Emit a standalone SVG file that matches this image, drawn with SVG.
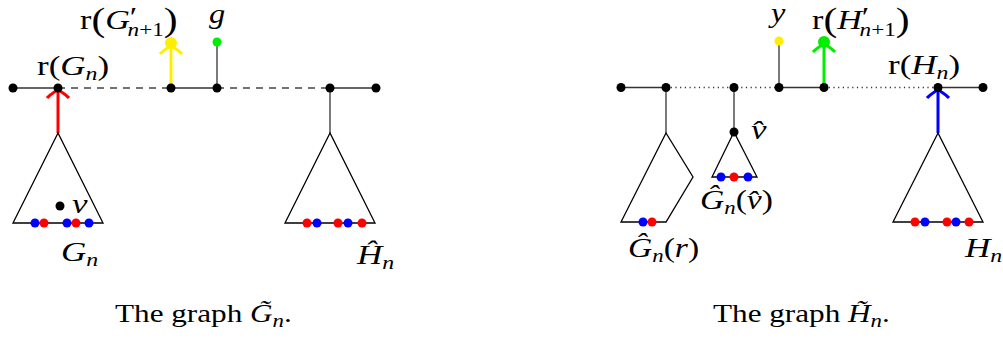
<svg xmlns="http://www.w3.org/2000/svg" width="1003" height="339" viewBox="0 0 1003 339">
<style>
.t{font-family:"Liberation Serif","Times New Roman",serif;font-size:28px;fill:#000}
.c{font-size:26px}
.i{font-style:italic}
.s{font-size:19px}
.bp{font-size:34px}
.edge{stroke:#333;stroke-width:1.3;fill:none}
.dash{stroke:#444;stroke-width:1.3;stroke-dasharray:7 6;fill:none}
.dotl{stroke:#333;stroke-width:1.3;stroke-dasharray:1.2 3.5;fill:none}
.tri{stroke:#000;stroke-width:1.3;fill:none}
.n{fill:#000}
.R{fill:#ff0000}
.B{fill:#0000ff}
.ar{stroke-width:3;fill:none;stroke-linecap:butt}
</style>
<rect width="1003" height="339" fill="#fff"/>

<!-- connectors -->
<g id="connectors">
  <!-- left graph -->
  <line class="edge" x1="13" y1="88" x2="58" y2="88"/>
  <line class="dash" x1="58" y1="88" x2="171" y2="88"/>
  <line class="edge" x1="171" y1="88" x2="217" y2="88"/>
  <line class="dash" x1="217" y1="88" x2="330" y2="88"/>
  <line class="edge" x1="330" y1="88" x2="376" y2="88"/>
  <line class="edge" x1="217" y1="88" x2="217" y2="42"/>
  <line class="edge" x1="330" y1="88" x2="330" y2="133"/>
  <line class="ar" stroke="#ff0000" x1="58" y1="133" x2="58" y2="90"/>
  <path class="ar" stroke="#ff0000" d="M47 98 C51 93 56 92 58 89 C60 92 65 93 69 98"/>
  <line class="ar" stroke="#ffee00" x1="171" y1="88" x2="171" y2="45"/>
  <path class="ar" stroke="#ffee00" d="M160 54 C164 49 169 48 171 45 C173 48 178 49 182 54"/>
  <!-- right graph -->
  <line class="edge" x1="621" y1="87.5" x2="666" y2="87.5"/>
  <line class="dotl" x1="666" y1="87.5" x2="779" y2="87.5"/>
  <line class="edge" x1="779" y1="87.5" x2="824" y2="87.5"/>
  <line class="dotl" x1="824" y1="87.5" x2="938" y2="87.5"/>
  <line class="edge" x1="938" y1="87.5" x2="983" y2="87.5"/>
  <line class="edge" x1="779" y1="87.5" x2="779" y2="41"/>
  <line class="edge" x1="666" y1="87.5" x2="666" y2="133"/>
  <line class="edge" x1="734" y1="87.5" x2="734" y2="132"/>
  <line class="ar" stroke="#00ee00" x1="824" y1="87.5" x2="824" y2="44"/>
  <path class="ar" stroke="#00ee00" d="M813 52 C817 47 822 46 824 43 C826 46 831 47 835 52"/>
  <line class="ar" stroke="#0000ff" x1="938" y1="133" x2="938" y2="90"/>
  <path class="ar" stroke="#0000ff" d="M927 98 C931 93 936 92 938 89 C940 92 945 93 949 98"/>
</g>

<!-- left graph nodes -->
<g id="n_l1"><circle class="n" cx="13" cy="88" r="4.5"/></g>
<g id="n_rGn"><circle class="n" cx="58" cy="88" r="4.5"/>
  <text class="t" transform="translate(37,75) scale(1.25,1)">r(<tspan class="i">G</tspan><tspan class="i s" dy="5">n</tspan><tspan dy="-5">)</tspan></text></g>
<g id="n_l3"><circle class="n" cx="171" cy="88" r="4.5"/></g>
<g id="n_rGn1"><circle cx="171" cy="43" r="6" fill="#ffee00"/>
  <text class="t" transform="translate(80,29) scale(1.22,1)">r<tspan class="bp" dy="2">(</tspan><tspan class="i" dy="-2">G</tspan><tspan dy="-3">′</tspan><tspan class="i s" dx="-8" dy="10">n</tspan><tspan class="s">+1</tspan><tspan class="bp" dy="-5">)</tspan></text></g>
<g id="n_l4"><circle class="n" cx="217" cy="88" r="4.5"/></g>
<g id="n_g"><circle cx="217" cy="42" r="4.5" fill="#00ee00"/>
  <text class="t i" style="font-size:27px" transform="translate(209,23) scale(1.2,1)">g</text></g>
<g id="n_l5"><circle class="n" cx="330" cy="88" r="4.5"/></g>
<g id="n_l6"><circle class="n" cx="376" cy="88" r="4.5"/></g>

<g id="tri_Gn">
  <polygon class="tri" points="58,133 13,223 103,223"/>
  <circle class="B" cx="35" cy="223" r="4.5"/><circle class="R" cx="44" cy="223" r="4.5"/>
  <circle class="B" cx="67" cy="223" r="4.5"/><circle class="R" cx="76" cy="223" r="4.5"/>
  <circle class="B" cx="89" cy="223" r="4.5"/>
  <text class="t" transform="translate(61,261) scale(1.25,1)"><tspan class="i">G</tspan><tspan class="i s" dy="5">n</tspan></text>
</g>
<g id="n_v"><circle class="n" cx="60" cy="206" r="4.5"/>
  <text class="t i" transform="translate(72,213) scale(1.25,1)">v</text></g>
<g id="tri_Hn_hat">
  <polygon class="tri" points="330,133 285,223 375,223"/>
  <circle class="R" cx="307" cy="223" r="4.5"/><circle class="B" cx="317" cy="223" r="4.5"/>
  <circle class="R" cx="338" cy="223" r="4.5"/><circle class="B" cx="348" cy="223" r="4.5"/>
  <circle class="R" cx="362" cy="223" r="4.5"/>
  <text class="t" transform="translate(357,264) scale(1.25,1)"><tspan class="i">Ĥ</tspan><tspan class="i s" dy="5">n</tspan></text>
</g>
<g id="cap_G"><text class="t c" transform="translate(115,322) scale(1.2,1)">The graph <tspan class="i">G̃</tspan><tspan class="i s" dy="5">n</tspan><tspan dy="-5">.</tspan></text></g>

<!-- right graph nodes -->
<g id="n_r1"><circle class="n" cx="621" cy="87.5" r="4.5"/></g>
<g id="n_r2"><circle class="n" cx="666" cy="87.5" r="4.5"/></g>
<g id="n_r3"><circle class="n" cx="734" cy="87.5" r="4.5"/></g>
<g id="n_r4"><circle class="n" cx="779" cy="87.5" r="4.5"/></g>
<g id="n_y"><circle cx="779" cy="41" r="4.5" fill="#ffee00"/>
  <text class="t i" style="font-size:27px" transform="translate(771,22) scale(1.2,1)">y</text></g>
<g id="n_r5"><circle class="n" cx="824" cy="87.5" r="4.5"/></g>
<g id="n_rHn1"><circle cx="824" cy="42" r="6" fill="#00ee00"/>
  <text class="t" transform="translate(812,29) scale(1.22,1)">r<tspan class="bp" dy="2">(</tspan><tspan class="i" dy="-2">H</tspan><tspan dy="-3">′</tspan><tspan class="i s" dx="-8" dy="10">n</tspan><tspan class="s">+1</tspan><tspan class="bp" dy="-5">)</tspan></text></g>
<g id="n_rHn"><circle class="n" cx="938" cy="87.5" r="4.5"/>
  <text class="t" transform="translate(888,74) scale(1.25,1)">r(<tspan class="i">H</tspan><tspan class="i s" dy="5">n</tspan><tspan dy="-5">)</tspan></text></g>
<g id="n_r7"><circle class="n" cx="983" cy="87.5" r="4.5"/></g>

<g id="tri_Gnr">
  <polygon class="tri" points="666,133 621,222 666,222 693,177"/>
  <circle class="B" cx="643" cy="222" r="4.5"/><circle class="R" cx="652" cy="222" r="4.5"/>
  <text class="t" transform="translate(628,257) scale(1.2,1)"><tspan class="i">Ĝ</tspan><tspan class="i s" dy="5">n</tspan><tspan dy="-5">(</tspan><tspan class="i">r</tspan>)</text>
</g>
<g id="n_vhat"><circle class="n" cx="734" cy="132" r="4.5"/>
  <text class="t i" transform="translate(751,139) scale(1.25,1)">v̂</text></g>
<g id="tri_Gnv">
  <polygon class="tri" points="734,132 712,177 757,177"/>
  <circle class="B" cx="721" cy="177" r="4.5"/><circle class="R" cx="734" cy="177" r="4.5"/>
  <circle class="B" cx="748" cy="177" r="4.5"/>
  <text class="t" transform="translate(700,209) scale(1.2,1)"><tspan class="i">Ĝ</tspan><tspan class="i s" dy="5">n</tspan><tspan dy="-5">(</tspan><tspan class="i">v̂</tspan>)</text>
</g>
<g id="tri_Hn">
  <polygon class="tri" points="938,133 893,222 983,222"/>
  <circle class="R" cx="915" cy="222" r="4.5"/><circle class="B" cx="925" cy="222" r="4.5"/>
  <circle class="R" cx="947" cy="222" r="4.5"/><circle class="B" cx="956" cy="222" r="4.5"/>
  <circle class="R" cx="969" cy="222" r="4.5"/>
  <text class="t" transform="translate(965,257) scale(1.25,1)"><tspan class="i">H</tspan><tspan class="i s" dy="5">n</tspan></text>
</g>
<g id="cap_H"><text class="t c" transform="translate(713,322) scale(1.2,1)">The graph <tspan class="i">H̃</tspan><tspan class="i s" dy="5">n</tspan><tspan dy="-5">.</tspan></text></g>
</svg>
